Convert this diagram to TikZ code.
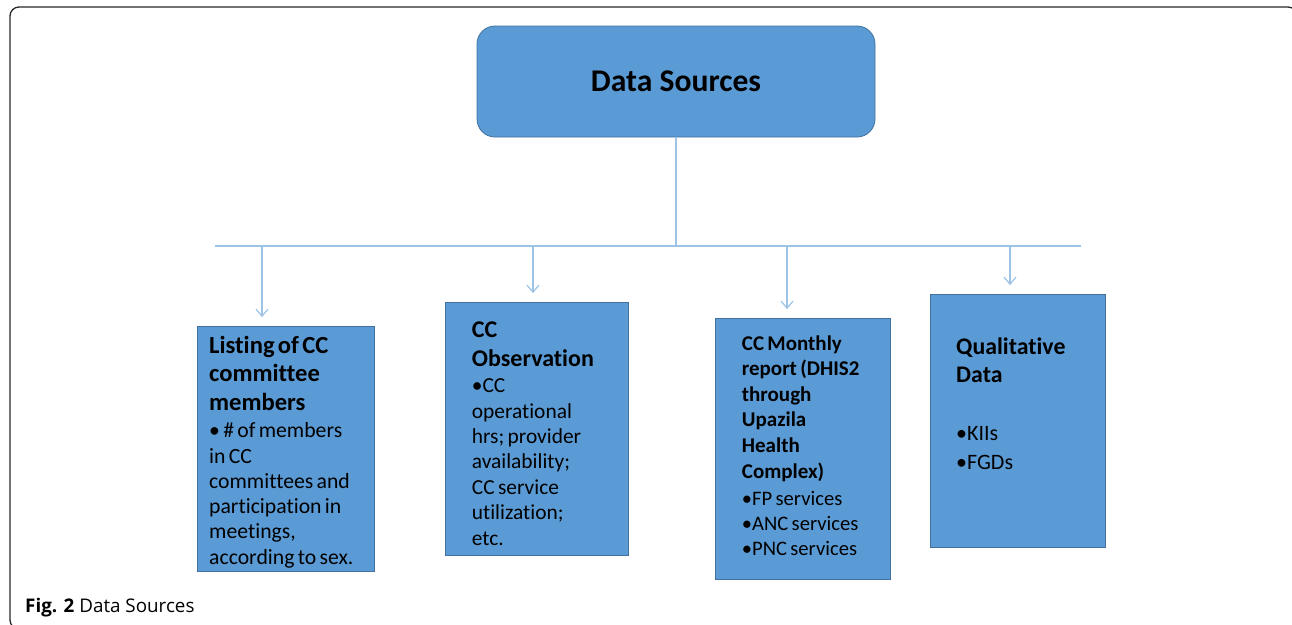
\documentclass[tikz,border=0pt]{standalone}
\usepackage{fontspec}
\setmainfont{Carlito}[Ligatures=NoCommon]
\newfontfamily\capfont{Open Sans}
\usetikzlibrary{arrows.meta}
\definecolor{boxfill}{HTML}{5B9BD5}
\definecolor{boxline}{HTML}{41719C}
\definecolor{conn}{HTML}{9DC3E6}
\begin{document}
\begin{tikzpicture}[x=1pt,y=-1pt,
  frame/.style={draw=black!85, line width=1.3pt, rounded corners=9pt},
  topbox/.style={draw=boxline, fill=boxfill, line width=0.8pt, rounded corners=18pt, inner sep=0pt,
    font=\bfseries\fontsize{31.6}{37}\selectfont},
  srcbox/.style={draw=boxline, fill=boxfill, line width=0.8pt, inner sep=0pt},
  conn/.style={draw=conn, line width=1.2pt},
  arr/.style={conn, -{Straight Barb[length=7pt,width=12pt]}, shorten >=8.5pt},
  txt/.style={anchor=base west, inner sep=0pt, text width=175pt, align=left}
]
\useasboundingbox (0,0) rectangle (1292,624);
\begin{scope}
\clip (0,0) rectangle (1292,624);
\draw[frame] (10,7) rectangle (1297,629);
\end{scope}

\node[topbox, minimum width=398pt, minimum height=111pt] (top) at (676,81.5) {Data Sources};

\node[srcbox, minimum width=177pt, minimum height=245pt] (b1) at (285.5,448.5) {};
\node[srcbox, minimum width=183pt, minimum height=253pt] (b2) at (536.5,428.5) {};
\node[srcbox, minimum width=175pt, minimum height=261pt] (b3) at (802.5,448.5) {};
\node[srcbox, minimum width=175pt, minimum height=253pt] (b4) at (1017.5,420.5) {};

\coordinate (busL) at (215,246);
\coordinate (busR) at (1081,246);
\coordinate (a1) at (262,246);
\coordinate (a2) at (533,246);
\coordinate (a3) at (787,246);
\coordinate (a4) at (1010,246);

\draw[conn] (top.south) -- (top.south |- busL);
\draw[conn] (busL) -- (busR);
\draw[arr] (a1) -- (a1 |- b1.north);
\draw[arr] (a2) -- (a2 |- b2.north);
\draw[arr] (a3) -- (a3 |- b3.north);
\draw[arr] (a4) -- (a4 |- b4.north);

\node[txt] (t1) at (209,353) {%
  {\bfseries\fontsize{24.6}{28.7}\selectfont Listing of CC\\committee\\members\par}%
  \vspace{2pt}%
  {\fontsize{21.7}{25.3}\selectfont • \# of members\\in CC\\committees and\\participation in\\meetings,\\according to sex.\par}};

\node[txt] (t2) at (471.7,337.7) {%
  {\bfseries\fontsize{24}{28.3}\selectfont CC\\Observation\par}%
  \vspace{1.3pt}%
  {\fontsize{21.4}{25.4}\selectfont •CC\\operational\\hrs; provider\\availability;\\CC service\\utilization;\\etc.\par}};

\node[txt] (t3) at (741.7,350) {%
  {\bfseries\fontsize{21}{25.6}\selectfont CC Monthly\\report (DHIS2\\through\\Upazila\\Health\\Complex)\par}%
  \vspace{1.7pt}%
  {\fontsize{20.6}{25.3}\selectfont •FP services\\•ANC services\\•PNC services\par}};

\node[txt] (t4) at (956,354.3) {%
  {\bfseries\fontsize{23.8}{28}\selectfont Qualitative\\Data\par}%
  \vspace{28.7pt}%
  {\fontsize{22}{29.3}\selectfont •KIIs\\•FGDs\par}};

\node[anchor=base west, inner sep=0pt] (cap) at (25,612.7)
  {\capfont\fontsize{18.8}{22}\selectfont\textbf{Fig. 2} Data Sources};
\end{tikzpicture}
\end{document}
